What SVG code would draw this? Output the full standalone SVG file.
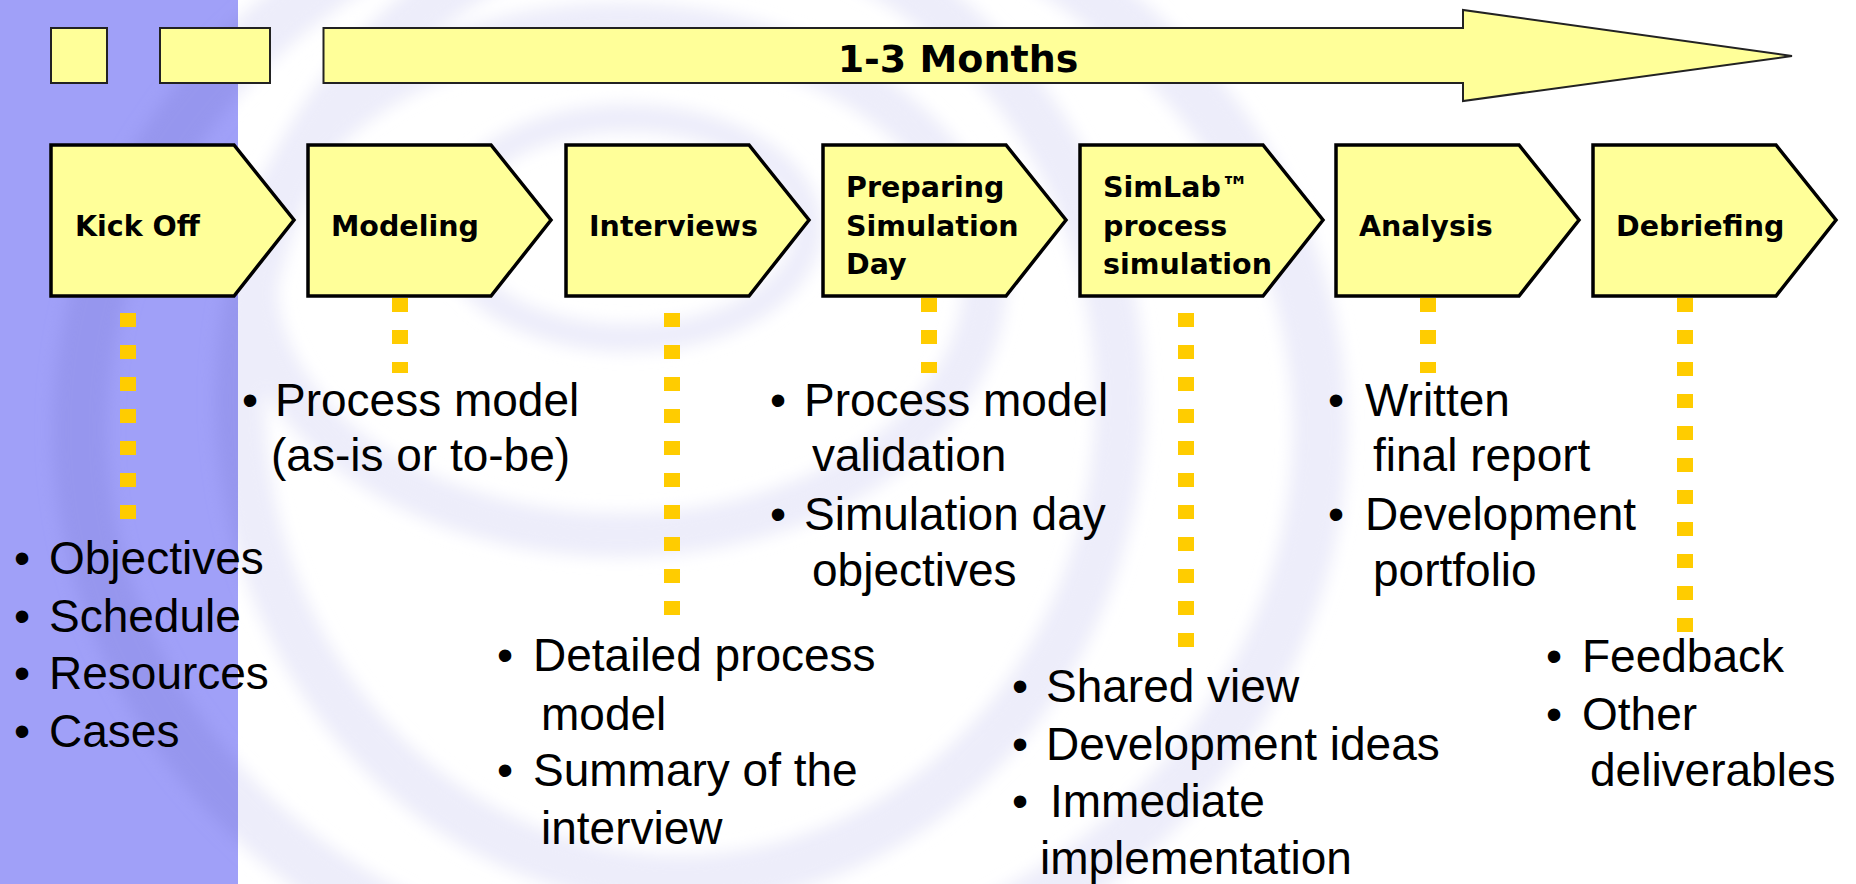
<svg xmlns="http://www.w3.org/2000/svg" width="1856" height="884" viewBox="0 0 1856 884">
<style>
.chev{fill:#ffff99;stroke:#000;stroke-width:3.5;stroke-linejoin:miter}
.bar{fill:#ffff99;stroke:#222;stroke-width:2}
.lbl{font-family:"DejaVu Sans",Verdana,sans-serif;font-weight:bold;font-size:28.5px;fill:#000}
.big{font-family:"DejaVu Sans",Verdana,sans-serif;font-weight:bold;font-size:38px;fill:#000}
.b{font-family:"Liberation Sans",Arial,sans-serif;font-size:46px;fill:#000}
.dot{stroke:#ffcc00;stroke-width:16;stroke-dasharray:14 18;fill:none}
.sw{fill:none}
</style>
<defs>
<clipPath id="bandClip"><rect x="0" y="0" width="238" height="884"/></clipPath>
<clipPath id="whiteClip"><rect x="238" y="0" width="1618" height="884"/></clipPath>
<filter id="soft" x="-10%" y="-10%" width="120%" height="120%"><feGaussianBlur stdDeviation="8"/></filter>
<g id="swirl">
<ellipse class="sw" cx="628" cy="228" rx="180" ry="110" stroke-width="28"/>
<ellipse class="sw" cx="620" cy="280" rx="365" ry="255" stroke-width="44"/>
<ellipse class="sw" cx="680" cy="400" rx="440" ry="480" stroke-width="50"/>
<ellipse class="sw" cx="700" cy="430" rx="620" ry="560" stroke-width="55"/>
</g>
</defs>

<g id="background">
<rect x="0" y="0" width="1856" height="884" fill="#ffffff"/>
<g clip-path="url(#whiteClip)"><use href="#swirl" stroke="#ededfa" filter="url(#soft)"/></g>
<rect x="0" y="0" width="238" height="884" fill="#a0a0f8"/>
<g clip-path="url(#bandClip)"><use href="#swirl" stroke="#9696ee" filter="url(#soft)"/></g>
</g>

<g id="timeline">
<rect class="bar" x="51" y="28" width="56" height="55"/>
<rect class="bar" x="160" y="28" width="110" height="55"/>
<polygon class="bar" points="323.5,28 1463,28 1463,10 1792,56 1463,101 1463,83 323.5,83"/>
<text class="big" x="958" y="72" text-anchor="middle">1-3 Months</text>
</g>

<g id="connectors">
<line class="dot" x1="128" y1="313" x2="128" y2="520"/>
<line class="dot" x1="400" y1="298" x2="400" y2="373"/>
<line class="dot" x1="672" y1="313" x2="672" y2="615"/>
<line class="dot" x1="929" y1="298" x2="929" y2="373"/>
<line class="dot" x1="1186" y1="313" x2="1186" y2="647"/>
<line class="dot" x1="1428" y1="298" x2="1428" y2="373"/>
<line class="dot" x1="1685" y1="298" x2="1685" y2="632"/>
</g>

<g id="kickoff">
<path class="chev" d="M51,145 H234 L294,220 L234,296 H51 Z"/>
<text class="lbl" x="75" y="236">Kick Off</text>
<text class="b"><tspan x="14" y="574">•</tspan><tspan x="49" y="574">Objectives</tspan></text>
<text class="b"><tspan x="14" y="632">•</tspan><tspan x="49" y="632">Schedule</tspan></text>
<text class="b"><tspan x="14" y="689">•</tspan><tspan x="49" y="689">Resources</tspan></text>
<text class="b"><tspan x="14" y="747">•</tspan><tspan x="49" y="747">Cases</tspan></text>
</g>

<g id="modeling">
<path class="chev" d="M308,145 H491 L551,220 L491,296 H308 Z"/>
<text class="lbl" x="331" y="236">Modeling</text>
<text class="b"><tspan x="242" y="416">•</tspan><tspan x="275" y="416">Process model</tspan></text>
<text class="b" x="271" y="471">(as-is or to-be)</text>
</g>

<g id="interviews">
<path class="chev" d="M566,145 H749 L809,220 L749,296 H566 Z"/>
<text class="lbl" x="589" y="236">Interviews</text>
<text class="b"><tspan x="497" y="671">•</tspan><tspan x="533" y="671">Detailed process</tspan></text>
<text class="b" x="541" y="730">model</text>
<text class="b"><tspan x="497" y="786">•</tspan><tspan x="533" y="786">Summary of the</tspan></text>
<text class="b" x="541" y="844">interview</text>
</g>

<g id="preparing">
<path class="chev" d="M823,145 H1006 L1066,220 L1006,296 H823 Z"/>
<text class="lbl"><tspan x="846" y="197">Preparing</tspan><tspan x="846" y="236">Simulation</tspan><tspan x="846" y="274">Day</tspan></text>
<text class="b"><tspan x="770" y="416">•</tspan><tspan x="804" y="416">Process model</tspan></text>
<text class="b" x="812" y="471">validation</text>
<text class="b"><tspan x="770" y="530">•</tspan><tspan x="804" y="530">Simulation day</tspan></text>
<text class="b" x="812" y="586">objectives</text>
</g>

<g id="simlab">
<path class="chev" d="M1080,145 H1263 L1323,220 L1263,296 H1080 Z"/>
<text class="lbl"><tspan x="1103" y="197">SimLab™</tspan><tspan x="1103" y="236">process</tspan><tspan x="1103" y="274">simulation</tspan></text>
<text class="b"><tspan x="1012" y="702">•</tspan><tspan x="1046" y="702">Shared view</tspan></text>
<text class="b"><tspan x="1012" y="760">•</tspan><tspan x="1046" y="760">Development ideas</tspan></text>
<text class="b"><tspan x="1012" y="817">•</tspan><tspan x="1050" y="817">Immediate</tspan></text>
<text class="b" x="1040" y="874">implementation</text>
</g>

<g id="analysis">
<path class="chev" d="M1336,145 H1519 L1579,220 L1519,296 H1336 Z"/>
<text class="lbl" x="1359" y="236">Analysis</text>
<text class="b"><tspan x="1328" y="416">•</tspan><tspan x="1365" y="416">Written</tspan></text>
<text class="b" x="1373" y="471">final report</text>
<text class="b"><tspan x="1328" y="530">•</tspan><tspan x="1365" y="530">Development</tspan></text>
<text class="b" x="1373" y="586">portfolio</text>
</g>

<g id="debriefing">
<path class="chev" d="M1593,145 H1776 L1836,220 L1776,296 H1593 Z"/>
<text class="lbl" x="1616" y="236">Debriefing</text>
<text class="b"><tspan x="1546" y="672">•</tspan><tspan x="1582" y="672">Feedback</tspan></text>
<text class="b"><tspan x="1546" y="730">•</tspan><tspan x="1582" y="730">Other</tspan></text>
<text class="b" x="1590" y="786">deliverables</text>
</g>
</svg>
